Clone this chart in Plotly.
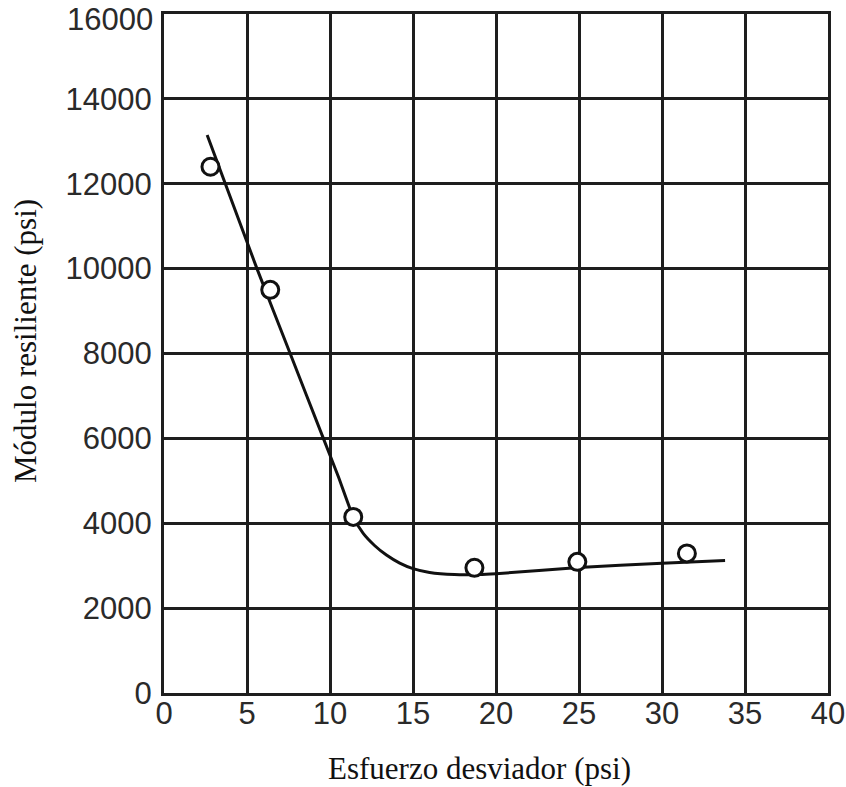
import plotly.graph_objects as go

# Measured resilient modulus vs deviator stress
esfuerzo = [2.8, 6.4, 11.4, 18.7, 24.9, 31.5]
modulo = [12400, 9500, 4150, 2950, 3090, 3290]

# Fitted trend curve (smoothed through these control points)
curva_x = [2.6, 5.6, 7.6, 9.6, 10.5, 11.4, 12.0, 12.7, 13.4, 14.2, 15.0, 16.0, 17.5, 19.0, 20.0, 25.0, 30.0, 33.8]
curva_y = [13150, 10000, 8000, 6000, 5100, 4150, 3760, 3470, 3250, 3060, 2930, 2840, 2790, 2790, 2810, 2960, 3060, 3120]

x_ticks = [0, 5, 10, 15, 20, 25, 30, 35, 40]
y_ticks = [0, 2000, 4000, 6000, 8000, 10000, 12000, 14000, 16000]

W, H = 846, 787
L, R, T, B = 164, 18, 14, 94

ink = "#1e1e1e"
tick_font = dict(family="Liberation Sans, Arial, sans-serif", size=31, color="#2a2a2a")
title_font = dict(family="Liberation Serif, Times New Roman, serif", size=31, color="#111111")

fig = go.Figure()
fig.add_trace(go.Scatter(
    x=curva_x, y=curva_y, mode="lines",
    line=dict(color="#111111", width=3, shape="spline", smoothing=0.6),
    hoverinfo="skip", showlegend=False,
))
fig.add_trace(go.Scatter(
    x=esfuerzo, y=modulo, mode="markers",
    marker=dict(symbol="circle", size=17, color="white",
                line=dict(color="#111111", width=3)),
    showlegend=False,
))

fig.update_xaxes(
    range=[0, 40], tickvals=x_ticks, ticktext=[str(v) for v in x_ticks],
    showgrid=True, gridcolor=ink, gridwidth=3,
    showline=True, linecolor=ink, linewidth=3, mirror=True,
    zeroline=False, ticks="", tickfont=tick_font, ticklabelstandoff=-9,
    ticklabeloverflow="allow", automargin=False,
)
# the top label sits a little below its gridline, so it is drawn separately
y_text = [str(v) for v in y_ticks[:-1]] + [""]
fig.update_yaxes(
    range=[0, 16000], tickvals=y_ticks, ticktext=y_text,
    showgrid=True, gridcolor=ink, gridwidth=3,
    showline=True, linecolor=ink, linewidth=3, mirror=True,
    zeroline=False, ticks="", tickfont=tick_font, ticklabelstandoff=3,
    ticklabeloverflow="allow", automargin=False,
)
fig.add_annotation(
    text=str(y_ticks[-1]), xref="paper", yref="y",
    x=0, y=y_ticks[-1], xanchor="right", yanchor="middle",
    xshift=-9, yshift=-5, showarrow=False, font=tick_font,
)

pw = W - L - R
ph = H - T - B
fig.add_annotation(
    text="Esfuerzo desviador (psi)", xref="paper", yref="paper",
    x=(479 - L) / pw, y=-(768 - (H - B)) / ph, xanchor="center", yanchor="middle",
    showarrow=False, font=title_font,
)
fig.add_annotation(
    text="Módulo resiliente (psi)", xref="paper", yref="paper",
    x=-(L - 26) / pw, y=((H - B) - 341) / ph, xanchor="center", yanchor="middle",
    textangle=-90, showarrow=False, font=title_font,
)

fig.update_layout(
    width=W, height=H,
    margin=dict(l=L, r=R, t=T, b=B, autoexpand=False),
    paper_bgcolor="white", plot_bgcolor="white",
)

fig.write_html("out.html")
